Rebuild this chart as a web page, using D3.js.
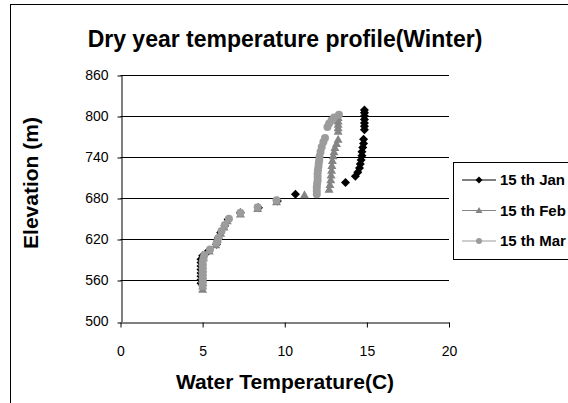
<!DOCTYPE html>
<html>
<head>
<meta charset="utf-8">
<script src="https://cdn.jsdelivr.net/npm/d3@7"></script>
<style>
	body { margin: 0; background: #fff; }
	svg { display: block; font-family: "Liberation Sans", Arial, sans-serif; }
</style>
</head>
<body>
<div id="chart"></div>
<script>
// tick labels
const xTicks = [0, 5, 10, 15, 20];
const yTicks = [500, 560, 620, 680, 740, 800, 860];

// series: [temperature, elevation]
const seriesNames = ['15 th Jan', '15 th Feb', '15 th Mar'];

const janData = [
	[4.9, 556], [4.9, 561], [4.9, 566], [4.9, 571], [4.9, 576], [4.9, 581], [4.9, 586], [4.9, 591],
	[5.0, 596], [5.35, 603], [5.85, 613], [5.95, 622], [6.1, 630], [6.35, 640], [6.55, 649],
	[7.3, 659], [8.4, 666], [9.55, 676], [10.65, 686],
	[13.7, 703], [14.3, 712], [14.45, 718], [14.55, 724], [14.6, 730], [14.65, 736],
	[14.7, 742], [14.7, 748], [14.75, 754], [14.8, 760], [14.8, 766],
	[14.85, 780], [14.85, 785], [14.85, 790], [14.85, 795], [14.85, 800], [14.85, 805], [14.85, 809]
];

const febData = [
	[5.0, 547], [5.0, 552], [5.0, 557], [5.0, 562], [5.0, 567], [5.0, 572], [5.0, 577], [5.0, 582],
	[5.0, 587], [5.05, 593], [5.4, 603], [5.8, 612], [5.9, 620], [6.1, 629], [6.3, 638], [6.5, 647],
	[7.3, 657], [8.35, 665], [9.5, 675], [11.2, 685],
	[12.7, 693], [12.75, 700], [12.8, 707], [12.82, 714], [12.85, 721], [12.87, 728],
	[12.9, 735], [12.95, 742], [13.0, 748], [13.05, 754], [13.15, 760], [13.25, 766],
	[13.25, 778], [13.25, 783], [13.25, 788], [13.25, 793], [13.25, 798]
];

const marData = [
	[5.0, 552], [5.0, 557], [5.0, 562], [5.0, 567], [5.0, 572], [5.0, 577], [5.0, 582], [5.0, 587],
	[5.05, 592], [5.1, 597], [5.45, 605], [5.85, 615], [5.95, 622], [6.15, 632], [6.35, 641], [6.6, 650],
	[7.3, 659], [8.35, 667], [9.5, 677],
	[11.95, 686], [11.95, 691], [11.95, 696], [11.97, 701], [12.0, 706], [12.0, 711], [12.0, 716],
	[12.02, 721], [12.05, 726], [12.07, 731], [12.1, 736], [12.12, 741], [12.18, 748], [12.25, 755],
	[12.35, 762], [12.45, 768],
	[12.6, 784], [12.7, 789], [12.85, 794], [13.0, 798], [13.3, 802]
];

const seriesColors = ['#000000', '#858585', '#9c9c9c'];
const seriesShapes = ['diamond', 'triangle', 'circle'];

const width = 568;
const height = 403;
const margin = { left: 120.5, right: 449, top: 75, bottom: 321.5 };

const svg = d3.select('#chart').append('svg')
	.attr('width', width)
	.attr('height', height);

// chart frame
svg.append('rect')
	.attr('x', 10.5)
	.attr('y', 4.5)
	.attr('width', 700)
	.attr('height', 500)
	.attr('fill', 'none')
	.attr('stroke', '#000');

const x = d3.scaleLinear().domain([0, 20]).range([margin.left, margin.right]);
const y = d3.scaleLinear().domain([500, 860]).range([margin.bottom, margin.top]);

// gridlines
svg.append('g')
	.selectAll('line')
	.data(yTicks.filter(d => d > 500))
	.join('line')
	.attr('x1', margin.left)
	.attr('x2', margin.right)
	.attr('y1', d => Math.round(y(d)) + 0.5)
	.attr('y2', d => Math.round(y(d)) + 0.5)
	.attr('stroke', '#000')
	.attr('stroke-width', 1);

const xAxis = svg.append('g')
	.attr('transform', `translate(0,${Math.round(margin.bottom) + 0.5})`)
	.call(d3.axisBottom(x).tickValues(xTicks).tickSize(5).tickSizeOuter(0).tickPadding(19));

const yAxis = svg.append('g')
	.attr('transform', `translate(${Math.round(margin.left) + 0.5},0)`)
	.call(d3.axisLeft(y).tickValues(yTicks).tickSize(4).tickSizeOuter(0).tickPadding(9));

[xAxis, yAxis].forEach(ax => {
	ax.select('.domain').attr('stroke', '#000');
	ax.selectAll('.tick line').attr('stroke', '#000');
	ax.selectAll('.tick text')
		.attr('font-family', '"Liberation Sans", Arial, sans-serif')
		.attr('font-size', 14)
		.attr('fill', '#000');
});
yAxis.selectAll('.tick line').attr('transform', d => `translate(0,${Math.round(y(d)) + 0.5 - y(d)})`);
xAxis.selectAll('.tick text').attr('dy', '0.71em');

// marker path builders
function markerPath(shape, r = 4.5) {
	if (shape === 'diamond') return `M0,${-r}L${r},0L0,${r}L${-r},0Z`;
	if (shape === 'triangle') return `M0,${-r}L${r},${r - 1}L${-r},${r - 1}Z`;
	return d3.arc()({ innerRadius: 0, outerRadius: r - 0.5, startAngle: 0, endAngle: 2 * Math.PI });
}

const allSeries = [janData, febData, marData];

allSeries.forEach((data, i) => {
	svg.append('g')
		.selectAll('path')
		.data(data)
		.join('path')
		.attr('d', markerPath(seriesShapes[i]))
		.attr('transform', d => `translate(${x(d[0])},${y(d[1])})`)
		.attr('fill', seriesColors[i]);
});

// titles
svg.append('text')
	.attr('x', 285)
	.attr('y', 47)
	.attr('text-anchor', 'middle')
	.attr('font-size', 23)
	.attr('font-weight', 'bold')
	.text('Dry year temperature profile(Winter)');

svg.append('text')
	.attr('x', 285)
	.attr('y', 389)
	.attr('text-anchor', 'middle')
	.attr('font-size', 21)
	.attr('font-weight', 'bold')
	.text('Water Temperature(C)');

svg.append('text')
	.attr('transform', 'translate(38,183) rotate(-90)')
	.attr('text-anchor', 'middle')
	.attr('font-size', 21)
	.attr('font-weight', 'bold')
	.text('Elevation (m)');

// legend
const legend = svg.append('g');
legend.append('rect')
	.attr('x', 453.5)
	.attr('y', 162.5)
	.attr('width', 200)
	.attr('height', 97)
	.attr('fill', '#fff')
	.attr('stroke', '#000');

const legendY = d3.scalePoint().domain(seriesNames).range([180, 241]);

const items = legend.selectAll('g.item')
	.data(seriesNames)
	.join('g')
	.attr('class', 'item')
	.attr('transform', d => `translate(0,${legendY(d)})`);

items.append('line')
	.attr('x1', 462)
	.attr('x2', 496)
	.attr('stroke', (d, i) => seriesColors[i])
	.attr('stroke-width', 1.2);

items.append('path')
	.attr('d', (d, i) => markerPath(seriesShapes[i], 3.5))
	.attr('transform', 'translate(479,0)')
	.attr('fill', (d, i) => seriesColors[i]);

items.append('text')
	.attr('x', 500)
	.attr('dy', '0.36em')
	.attr('font-size', 15)
	.attr('font-weight', 'bold')
	.text(d => d);
</script>
</body>
</html>
